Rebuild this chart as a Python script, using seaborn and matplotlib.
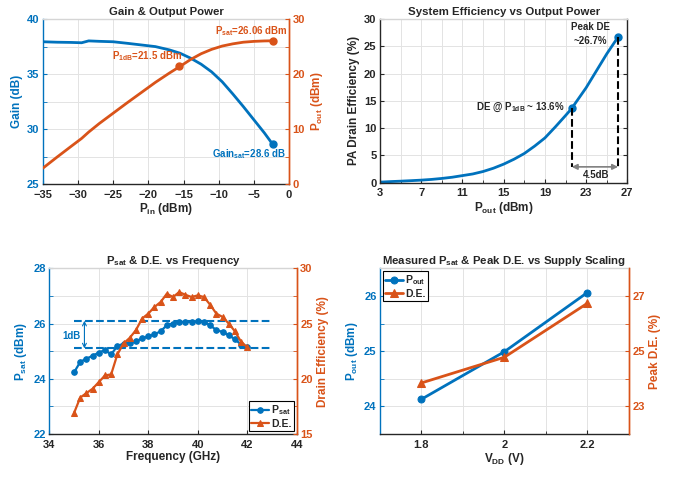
import matplotlib
matplotlib.use("Agg")
import matplotlib.pyplot as plt
from matplotlib.ticker import MultipleLocator, FixedLocator
import seaborn as sns
import pandas as pd
import numpy as np

BLUE = "#0072BD"
ORANGE = "#D95319"
GRID = "#e3e3e3"
DARK = "#262626"

# --- panel 1: gain & output power vs input power
pin = [-35, -33, -31, -29.5, -28.5, -27, -25, -23, -21, -19, -17, -15.5, -14,
       -12.5, -11, -9.5, -8, -6.5, -5, -3.5, -2.3]
gain = [37.94, 37.9, 37.88, 37.85, 38.02, 37.98, 37.94, 37.8, 37.65, 37.5, 37.2,
        36.9, 36.45, 35.9, 35.2, 34.3, 33.2, 32.05, 30.85, 29.65, 28.6]
pout = [2.9, 4.9, 6.85, 8.3, 9.45, 11.0, 12.9, 14.8, 16.65, 18.5, 20.2, 21.4, 22.65,
        23.7, 24.5, 25.1, 25.5, 25.8, 25.95, 26.03, 26.06]
p1db_pin, p1db = -15.7, 21.5
psat_pin, psat = -2.3, 26.06
gainsat = 28.6

# --- panel 2: drain efficiency vs output power
pout2 = [3, 4, 5, 6, 7, 8, 9, 10, 11, 12, 13, 14, 15, 16, 17, 18, 19, 20, 21,
         21.6, 22, 23, 24, 25, 26.1]
de2 = [0.1, 0.2, 0.28, 0.37, 0.47, 0.6, 0.78, 1.0, 1.3, 1.6, 2.05, 2.65, 3.4,
       4.3, 5.35, 6.7, 8.2, 10.2, 12.3, 13.6, 14.7, 17.4, 20.5, 23.6, 26.7]
de_p1db_x, de_p1db = 21.6, 13.6
de_peak_x, de_peak = 26.1, 26.7

# --- panel 3: Psat & DE vs frequency
freq = [35.0, 35.25, 35.5, 35.75, 36.0, 36.25, 36.5, 36.75, 37.0, 37.25, 37.5,
        37.75, 38.0, 38.25, 38.5, 38.75, 39.0, 39.25, 39.5, 39.75, 40.0, 40.25,
        40.5, 40.75, 41.0, 41.25, 41.5, 41.75, 42.0]
psat_f = [24.23, 24.61, 24.73, 24.83, 24.95, 25.04, 24.88, 25.19, 25.27, 25.31,
          25.36, 25.46, 25.54, 25.61, 25.72, 25.94, 26.0, 26.06, 26.06, 26.06,
          26.08, 26.06, 25.94, 25.76, 25.7, 25.58, 25.43, 25.24, 25.15]
de_f = [16.9, 18.3, 18.7, 19.1, 19.7, 20.3, 20.4, 22.2, 23.2, 23.7, 24.4, 25.45,
        25.9, 26.5, 26.95, 27.7, 27.4, 27.85, 27.6, 27.4, 27.55, 27.4, 26.7,
        25.9, 25.6, 25.0, 24.3, 23.35, 22.85]
band_hi, band_lo = 26.1, 25.1

# --- panel 4: supply scaling
vdd = [1.8, 2.0, 2.2]
pout_v = [24.13, 24.99, 26.06]
de_v = [23.85, 24.78, 26.73]

sns.set_style("ticks")
plt.rcParams['font.family'] = ['Liberation Sans Narrow', 'Liberation Sans', 'DejaVu Sans']
plt.rcParams['font.weight'] = 'bold'
plt.rcParams['axes.labelweight'] = 'bold'
plt.rcParams['axes.titleweight'] = 'bold'
plt.rcParams['mathtext.default'] = 'regular'

TICK = 8
LAB = 8.5
TTL = 8.2
ANN = 7

fig = plt.figure(figsize=(6.78, 4.78), dpi=100)


def style_axes(ax, lcol, rcol=None, ax2=None):
    ax.grid(True, which='both', color=GRID, lw=0.7)
    ax.set_axisbelow(True)
    ax.tick_params(axis='both', which='both', direction='in', labelsize=TICK)
    ax.tick_params(axis='x', colors=DARK, length=3, pad=4)
    ax.tick_params(axis='x', which='minor', length=2)
    ax.tick_params(axis='y', colors=lcol, length=3, which='both', pad=2.5)
    ax.spines['left'].set_color(lcol)
    ax.spines['bottom'].set_color(DARK)
    ax.spines['top'].set_color("#d5d5d5")
    ax.spines['right'].set_color(rcol if rcol else DARK)
    for s in ax.spines.values():
        s.set_linewidth(1.0)
    if ax2 is not None:
        ax2.grid(False)
        ax2.tick_params(axis='y', which='both', direction='in', colors=rcol,
                        length=3, labelsize=TICK, pad=2.5)
        ax2.spines['right'].set_color(rcol)
        ax2.spines['left'].set_visible(False)
        ax2.spines['top'].set_visible(False)
        ax2.spines['bottom'].set_visible(False)
        ax2.spines['right'].set_linewidth(1.0)


def small_legend(ax_src, ax_dst, loc):
    h1, l1 = ax_src.get_legend_handles_labels()
    h2, l2 = ax_dst.get_legend_handles_labels()
    leg = ax_dst.legend(h1 + h2, l1 + l2, loc=loc, fontsize=7.5, frameon=True,
                        fancybox=False, edgecolor='black', framealpha=1,
                        borderpad=0.25, labelspacing=0.15, handlelength=1.7,
                        handletextpad=0.2, borderaxespad=0.25)
    leg.get_frame().set_linewidth(0.8)
    return leg


# ---------------- panel 1
ax1 = fig.add_axes([0.0634, 0.615, 0.3628, 0.345])
df1 = pd.DataFrame({'pin': pin, 'gain': gain, 'pout': pout})
sns.lineplot(data=df1, x='pin', y='gain', ax=ax1, color=BLUE, lw=2)
ax1.plot([psat_pin], [gainsat], 'o', color=BLUE, ms=5)
ax1b = ax1.twinx()
sns.lineplot(data=df1, x='pin', y='pout', ax=ax1b, color=ORANGE, lw=2)
ax1b.plot([p1db_pin, psat_pin], [p1db, psat], 'o', color=ORANGE, ms=5)
ax1.set_xlim(-35, 0)
ax1.set_ylim(25, 40)
ax1b.set_ylim(0, 30)
ax1.xaxis.set_major_locator(MultipleLocator(5))
ax1.yaxis.set_major_locator(MultipleLocator(5))
ax1.yaxis.set_minor_locator(MultipleLocator(2.5))
ax1b.yaxis.set_major_locator(MultipleLocator(10))
ax1b.yaxis.set_minor_locator(MultipleLocator(5))
style_axes(ax1, BLUE, ORANGE, ax1b)
ax1.set_title("Gain & Output Power", fontsize=TTL, pad=3, color=DARK)
ax1.set_xlabel("P$_{in}$ (dBm)", fontsize=LAB, color=DARK, labelpad=1)
ax1.set_ylabel("Gain (dB)", fontsize=LAB, color=BLUE, labelpad=3)
ax1b.set_ylabel("P$_{out}$ (dBm)", fontsize=LAB, color=ORANGE, labelpad=3)
ax1b.text(-20.2, 23.2, "P$_{1dB}$=21.5 dBm", color=ORANGE, fontsize=ANN, ha='center', va='center')
ax1b.text(-5.3, 27.9, "P$_{sat}$=26.06 dBm", color=ORANGE, fontsize=ANN, ha='center', va='center')
ax1.text(-5.7, 27.7, "Gain$_{sat}$=28.6 dB", color=BLUE, fontsize=ANN, ha='center', va='center')

# ---------------- panel 2
ax2 = fig.add_axes([0.5605, 0.6178, 0.3648, 0.3425])
df2 = pd.DataFrame({'pout': pout2, 'de': de2})
sns.lineplot(data=df2, x='pout', y='de', ax=ax2, color=BLUE, lw=2)
ax2.plot([de_p1db_x, de_peak_x], [de_p1db, de_peak], 'o', color=BLUE, ms=5)
arrow_y = 2.9
ax2.plot([de_p1db_x, de_p1db_x], [de_p1db, arrow_y], ls='--', color='black', lw=1.5)
ax2.plot([de_peak_x, de_peak_x], [de_peak, arrow_y], ls='--', color='black', lw=1.5)
ax2.annotate("", xy=(de_p1db_x, arrow_y), xytext=(de_peak_x, arrow_y),
             arrowprops=dict(arrowstyle='<|-|>', color='#808080', lw=1.2,
                             mutation_scale=8, shrinkA=0, shrinkB=0))
ax2.text(24.0, 1.5, "4.5dB", fontsize=ANN, ha='center', va='center', color=DARK)
ax2.text(20.9, 13.8, "DE @ P$_{1dB}$ ~ 13.6%", fontsize=ANN, ha='right', va='center', color=DARK)
ax2.text(23.4, 28.6, "Peak DE", fontsize=ANN, ha='center', va='center', color=DARK)
ax2.text(23.45, 25.9, "~26.7%", fontsize=ANN, ha='center', va='center', color=DARK)
ax2.set_xlim(3, 27)
ax2.set_ylim(0, 30)
ax2.xaxis.set_major_locator(FixedLocator([3, 7, 11, 15, 19, 23, 27]))
ax2.xaxis.set_minor_locator(FixedLocator([5, 9, 13, 17, 21, 25]))
ax2.yaxis.set_major_locator(MultipleLocator(5))
style_axes(ax2, DARK, DARK)
ax2.tick_params(right=True, which='both', direction='in')
ax2.set_title("System Efficiency vs Output Power", fontsize=TTL, pad=3, color=DARK)
ax2.set_xlabel("P$_{out}$ (dBm)", fontsize=LAB, color=DARK, labelpad=1)
ax2.set_ylabel("PA Drain Efficiency (%)", fontsize=LAB, color=DARK, labelpad=3)

# ---------------- panel 3
ax3 = fig.add_axes([0.0727, 0.092, 0.365, 0.3467])
df3 = pd.DataFrame({'freq': freq, 'psat': psat_f, 'de': de_f})
sns.lineplot(data=df3, x='freq', y='psat', ax=ax3, color=BLUE, lw=1.6,
             marker='o', ms=4, mec=BLUE, label="P$_{sat}$", legend=False)
ax3.plot([35, 43], [band_hi, band_hi], ls='--', color=BLUE, lw=1.5)
ax3.plot([35, 43], [band_lo, band_lo], ls='--', color=BLUE, lw=1.5)
ax3.annotate("", xy=(35.42, band_hi), xytext=(35.42, band_lo),
             arrowprops=dict(arrowstyle='<->', color=BLUE, lw=0.8,
                             mutation_scale=7, shrinkA=0, shrinkB=0))
ax3.text(34.9, 25.55, "1dB", color=BLUE, fontsize=ANN, ha='center', va='center')
ax3b = ax3.twinx()
sns.lineplot(data=df3, x='freq', y='de', ax=ax3b, color=ORANGE, lw=1.6,
             marker='^', ms=5, mec=ORANGE, label="D.E.", legend=False)
ax3.set_xlim(34, 44)
ax3.set_ylim(22, 28)
ax3b.set_ylim(15, 30)
ax3.xaxis.set_major_locator(MultipleLocator(2))
ax3.yaxis.set_major_locator(MultipleLocator(2))
ax3.yaxis.set_minor_locator(MultipleLocator(1))
ax3b.yaxis.set_major_locator(MultipleLocator(5))
ax3b.yaxis.set_minor_locator(MultipleLocator(2.5))
style_axes(ax3, BLUE, ORANGE, ax3b)
small_legend(ax3, ax3b, 'lower right')
ax3.set_title("P$_{sat}$ & D.E. vs Frequency", fontsize=TTL, pad=3, color=DARK)
ax3.set_xlabel("Frequency (GHz)", fontsize=LAB, color=DARK, labelpad=1)
ax3.set_ylabel("P$_{sat}$ (dBm)", fontsize=LAB, color=BLUE, labelpad=3)
ax3b.set_ylabel("Drain Efficiency (%)", fontsize=LAB, color=ORANGE, labelpad=3)

# ---------------- panel 4
ax4 = fig.add_axes([0.5605, 0.092, 0.3668, 0.3467])
df4 = pd.DataFrame({'vdd': vdd, 'pout': pout_v, 'de': de_v})
sns.lineplot(data=df4, x='vdd', y='pout', ax=ax4, color=BLUE, lw=2,
             marker='o', ms=5, mec=BLUE, label="P$_{out}$", legend=False)
ax4b = ax4.twinx()
sns.lineplot(data=df4, x='vdd', y='de', ax=ax4b, color=ORANGE, lw=2,
             marker='^', ms=6, mec=ORANGE, label="D.E.", legend=False)
ax4.set_xlim(1.7, 2.3)
ax4.set_ylim(23.5, 26.5)
ax4b.set_ylim(22, 28)
ax4.xaxis.set_major_locator(FixedLocator([1.8, 2.0, 2.2]))
ax4.xaxis.set_minor_locator(FixedLocator([1.9, 2.1]))
ax4.set_xticklabels(["1.8", "2", "2.2"])
ax4.yaxis.set_major_locator(MultipleLocator(1))
ax4.yaxis.set_minor_locator(MultipleLocator(0.5))
ax4b.yaxis.set_major_locator(FixedLocator([23, 25, 27]))
ax4b.yaxis.set_minor_locator(FixedLocator([24, 26]))
style_axes(ax4, BLUE, ORANGE, ax4b)
small_legend(ax4, ax4b, 'upper left')
ax4.set_title("Measured P$_{sat}$ & Peak D.E. vs Supply Scaling", fontsize=TTL, pad=3, color=DARK)
ax4.set_xlabel("V$_{DD}$ (V)", fontsize=LAB, color=DARK, labelpad=1)
ax4.set_ylabel("P$_{out}$ (dBm)", fontsize=LAB, color=BLUE, labelpad=3)
ax4b.set_ylabel("Peak D.E. (%)", fontsize=LAB, color=ORANGE, labelpad=3)

fig.savefig("out.png", dpi=100)
